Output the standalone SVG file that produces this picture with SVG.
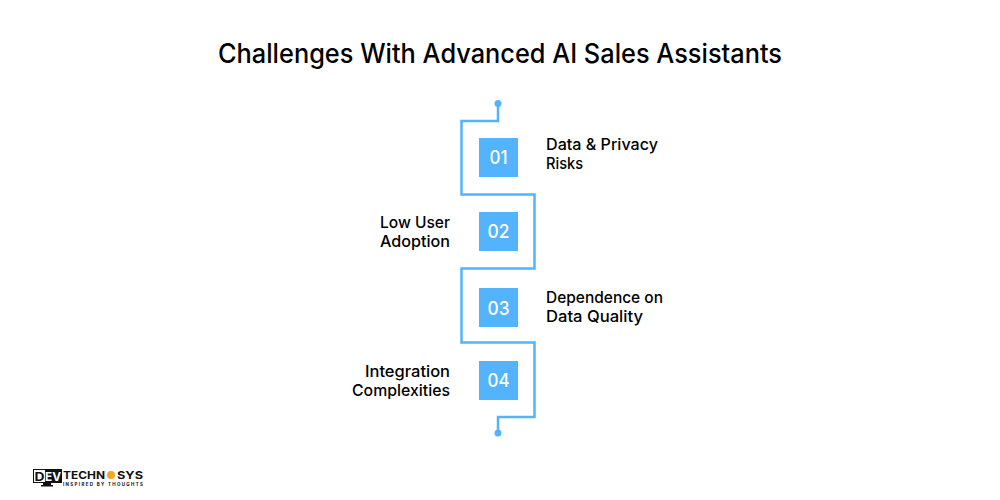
<svg xmlns="http://www.w3.org/2000/svg" width="1000" height="500" viewBox="0 0 1000 500">
<style>
.t{font-family:"Inter","Liberation Sans",sans-serif;font-weight:500;fill:#000;font-size:16px}
.n{font-family:"Inter","Liberation Sans",sans-serif;font-weight:500;fill:#fff;font-size:19px;text-anchor:middle}
.l{font-family:"Inter","Liberation Sans",sans-serif;font-weight:700}
.b{fill:#53b4fd}
.e{text-anchor:end}
</style>
<rect width="1000" height="500" fill="#fff"/>
<text x="500" y="63" text-anchor="middle" font-family="Inter,'Liberation Sans',sans-serif" font-weight="500" font-size="26.500" fill="#000" textLength="564" lengthAdjust="spacingAndGlyphs">Challenges With Advanced AI Sales Assistants</text>
<g id="connectors" fill="none" stroke="#53b4fd" stroke-width="2.5">
<path d="M498 104V121H461.500V194.500H534.500V268.500H461.500V342.500H534.500V417H498V433"/>
<circle cx="498" cy="103.500" r="3.500" fill="#53b4fd" stroke="none"/>
<circle cx="498" cy="433" r="3.500" fill="#53b4fd" stroke="none"/>
</g>
<g id="node1"><rect class="b" x="479" y="138" width="39" height="39"/><text class="n" x="498.500" y="164" textLength="18" lengthAdjust="spacingAndGlyphs">01</text>
<text class="t" x="546" y="150" textLength="112" lengthAdjust="spacingAndGlyphs">Data &amp; Privacy</text><text class="t" x="546" y="169" textLength="37" lengthAdjust="spacingAndGlyphs">Risks</text></g>
<g id="node2"><rect class="b" x="479" y="212" width="39" height="39"/><text class="n" x="498.500" y="238" textLength="22" lengthAdjust="spacingAndGlyphs">02</text>
<text class="t e" x="450" y="228" textLength="70" lengthAdjust="spacingAndGlyphs">Low User</text><text class="t e" x="450" y="247" textLength="70" lengthAdjust="spacingAndGlyphs">Adoption</text></g>
<g id="node3"><rect class="b" x="479" y="288" width="39" height="39"/><text class="n" x="498.500" y="314.500" textLength="22" lengthAdjust="spacingAndGlyphs">03</text>
<text class="t" x="546" y="303" textLength="117" lengthAdjust="spacingAndGlyphs">Dependence on</text><text class="t" x="546" y="322" textLength="97" lengthAdjust="spacingAndGlyphs">Data Quality</text></g>
<g id="node4"><rect class="b" x="479" y="361" width="39" height="39"/><text class="n" x="498.500" y="387" textLength="22" lengthAdjust="spacingAndGlyphs">04</text>
<text class="t e" x="450" y="377" textLength="85" lengthAdjust="spacingAndGlyphs">Integration</text><text class="t e" x="450" y="396" textLength="98" lengthAdjust="spacingAndGlyphs">Complexities</text></g>
<g id="logo">
<rect x="33" y="469" width="29" height="14" fill="#111"/>
<rect x="34" y="470" width="11" height="12" fill="#fff"/>
<rect x="43" y="483" width="8" height="2" fill="#111"/>
<rect x="41" y="485" width="12" height="1.500" fill="#111"/>
<text class="l" x="34.500" y="481" font-size="12" fill="#111" textLength="10" lengthAdjust="spacingAndGlyphs">D</text>
<text class="l" x="45" y="481" font-size="12" fill="#fff" textLength="16" lengthAdjust="spacingAndGlyphs">EV</text>
<text class="l" x="63" y="478.500" font-size="11" fill="#111" textLength="42" lengthAdjust="spacingAndGlyphs">TECHN</text>
<circle cx="111" cy="475" r="4" fill="#f5a623"/>
<text class="l" x="117" y="478.500" font-size="11" fill="#111" textLength="26" lengthAdjust="spacingAndGlyphs">SYS</text>
<text class="l" x="63" y="486" font-size="4.500" fill="#111" textLength="80">INSPIRED BY THOUGHTS</text>
</g>
</svg>
